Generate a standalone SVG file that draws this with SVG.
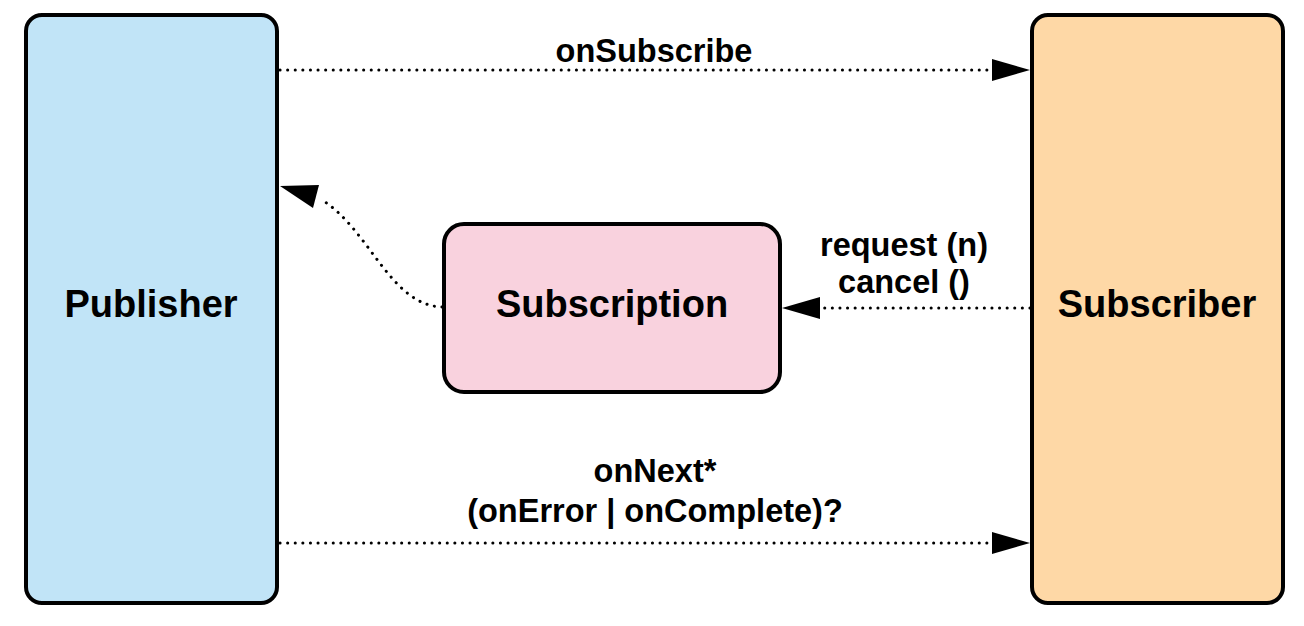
<svg xmlns="http://www.w3.org/2000/svg" width="1304" height="626" viewBox="0 0 1304 626">
<style>
.box{stroke:#000;stroke-width:4}
.lbl{font-family:"Liberation Sans",Arial,sans-serif;font-weight:bold;fill:#000;text-anchor:middle}
.big{font-size:38px}
.sm{font-size:32.5px}
.conn{fill:none;stroke:#000;stroke-width:3;stroke-dasharray:0.1 7.5;stroke-linecap:round}
</style>
<rect width="1304" height="626" fill="#fff"/>
<g id="publisher">
<rect class="box" x="26" y="15" width="251" height="588" rx="16" fill="#c1e4f7"/>
<text class="lbl big" x="151" y="317">Publisher</text>
</g>
<g id="subscriber">
<rect class="box" x="1032" y="15" width="251" height="588" rx="16" fill="#fed8a6"/>
<text class="lbl big" x="1157" y="317">Subscriber</text>
</g>
<g id="subscription">
<rect class="box" x="444" y="224" width="336" height="168" rx="20" fill="#f9d2de"/>
<text class="lbl big" x="612" y="317">Subscription</text>
</g>
<g id="connectors">
<path class="conn" d="M280,70 L992,70"/>
<path d="M992,59 L1030,70 L992,81 Z" fill="#000"/>
<path class="conn" d="M280,543 L992,543"/>
<path d="M992,532 L1030,543 L992,554 Z" fill="#000"/>
<path class="conn" d="M1030,308 L822,308"/>
<path d="M820,297 L782,308 L820,319 Z" fill="#000"/>
<path class="conn" d="M442,307 C390,305 370,230 322,200"/>
<path d="M280,186 L319,185 L313,208 Z" fill="#000"/>
<text class="lbl sm" x="654" y="62">onSubscribe</text>
<text class="lbl sm" x="904" y="256">request (n)</text>
<text class="lbl sm" x="904" y="293">cancel ()</text>
<text class="lbl sm" x="655" y="482">onNext*</text>
<text class="lbl sm" x="655" y="522">(onError | onComplete)?</text>
</g>
</svg>
